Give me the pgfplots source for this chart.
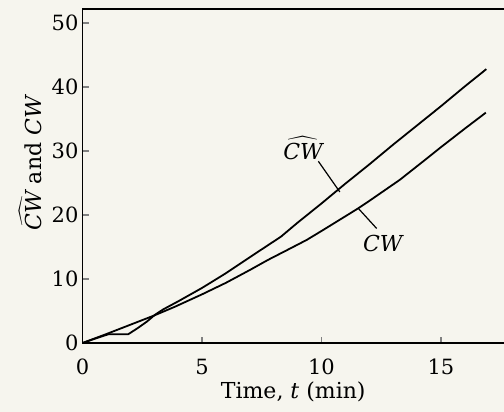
\documentclass[border=0pt]{standalone}
\usepackage{fontspec}
\setmainfont{DejaVu Serif}
\usepackage{pgfplots}
\pgfplotsset{compat=1.18}
\usetikzlibrary{backgrounds}
\definecolor{paper}{HTML}{F6F5EE}

\begin{document}
\begin{tikzpicture}
\begin{axis}[
  scale only axis,
  width=210.75pt, height=167pt,
  xmin=0, xmax=17.64, ymin=0, ymax=52.2,
  axis x line*=box, axis y line*=left,
  axis line style={line width=0.9pt},
  xtick={5,10,15}, ytick={0,10,...,50},
  extra x ticks={0}, extra x tick style={major tick length=0pt},
  xtick pos=bottom, ytick pos=left,
  tick align=inside, major tick length=3pt,
  tick style={line width=0.7pt},
  /pgf/number format/assume math mode=true,
  ticklabel style={font=\fontsize{10.5}{12}\selectfont},
  xticklabel style={yshift=-4.5pt},
  yticklabel style={xshift=1.5pt},
  xlabel={Time, \textit{t} (min)},
  ylabel={$\widehat{\textit{CW}}$ and \textit{CW}},
  label style={font=\fontsize{11}{13}\selectfont},
  xlabel style={yshift=3.5pt},
  ylabel style={at={(ticklabel cs:0.54)}, yshift=-2pt},
]
% CW-hat (upper at the end)
\addplot[black, line width=0.9pt] coordinates {
  (0,0) (0.5,0.65) (1.08,1.36) (1.5,1.36) (1.91,1.36) (2.3,2.3) (2.69,3.33)
  (3.03,4.4) (3.38,5.26) (4,6.5) (5,8.6) (6,10.9) (7,13.4) (7.77,15.3)
  (8.3,16.6) (9,18.8) (10,21.8) (11,24.9) (12,27.9) (13,31.0) (14,34.0)
  (15,37.0) (16,40.1) (16.9,42.8)};
% CW (lower at the end)
\addplot[black, line width=0.9pt] coordinates {
  (0,0) (1,1.4) (2,2.85) (3,4.3) (3.87,5.67) (5,7.6) (6,9.4) (7,11.4)
  (7.77,13.0) (8.5,14.4) (9.38,16.1) (10,17.5) (11,19.8) (11.54,21.05)
  (12,22.2) (13.28,25.5) (14.33,28.6) (15,30.6) (16,33.5) (16.88,36.0)};
\node[font=\fontsize{11}{13}\selectfont] at (axis cs:9.23,30.4) {$\widehat{\textit{CW}}$};
\draw[line width=0.6pt] (axis cs:9.87,28.4) -- (axis cs:10.77,23.6);
\node[font=\fontsize{11}{13}\selectfont] at (axis cs:12.6,15.6) {\textit{CW}};
\draw[line width=0.6pt] (axis cs:12.31,17.9) -- (axis cs:11.54,21.05);
\end{axis}
\pgfresetboundingbox
\path[use as bounding box] ([xshift=-41.25pt,yshift=-34.5pt]current axis.south west)
  rectangle ([yshift=4.5pt]current axis.north east);
\begin{scope}[on background layer]
  \fill[paper] ([xshift=-41.25pt,yshift=-34.5pt]current axis.south west)
    rectangle ([yshift=4.5pt]current axis.north east);
\end{scope}
\end{tikzpicture}
\end{document}
